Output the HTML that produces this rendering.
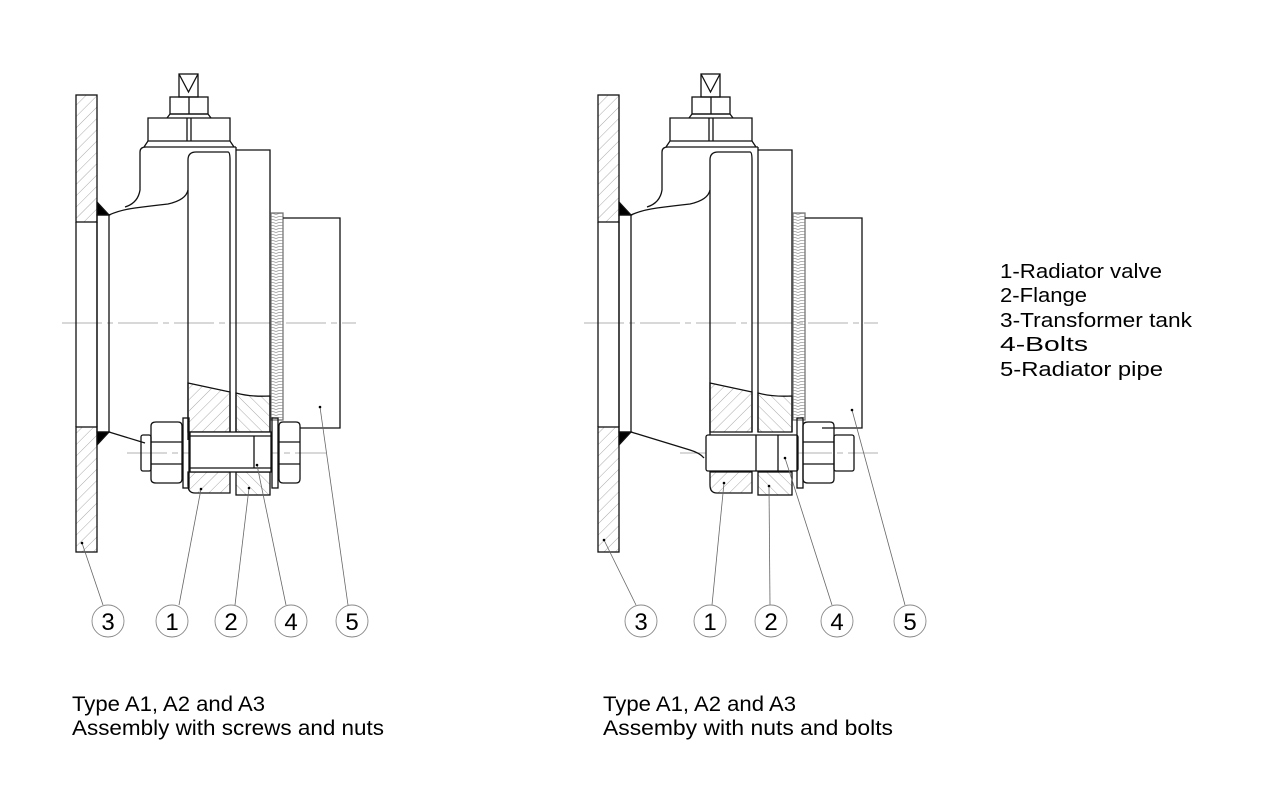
<!DOCTYPE html>
<html><head><meta charset="utf-8"><style>
html,body{margin:0;padding:0;background:#fff;}
svg{display:block;font-family:"Liberation Sans",sans-serif;}
</style></head><body>
<svg width="1280" height="800" viewBox="0 0 1280 800" xmlns="http://www.w3.org/2000/svg">
<defs>
<pattern id="h1" patternUnits="userSpaceOnUse" width="8" height="8" patternTransform="rotate(45)">
<line x1="0" y1="0" x2="0" y2="8" stroke="#aaa" stroke-width="1"/></pattern>
<pattern id="h2" patternUnits="userSpaceOnUse" width="8" height="8" patternTransform="rotate(-45)">
<line x1="0" y1="0" x2="0" y2="8" stroke="#aaa" stroke-width="1"/></pattern>
<pattern id="kn" patternUnits="userSpaceOnUse" width="12" height="3">
<path d="M0 1.5 Q6 -1 12 1.5" fill="none" stroke="#999" stroke-width="0.8"/></pattern>
<g id="body" fill="none" stroke="#111" stroke-width="1.3">
  <rect x="76" y="95" width="21" height="127" fill="url(#h1)"/>
  <rect x="76" y="427" width="21" height="125" fill="url(#h1)"/>
  <line x1="76" y1="222" x2="76" y2="427"/>
  <line x1="97" y1="222" x2="97" y2="427"/>
  <rect x="97" y="215" width="12" height="217"/>
  <path d="M97 202 L97 215 L109 215 Z" fill="#000"/>
  <path d="M97 432 L97 445 L109 432 Z" fill="#000"/>
  <path d="M109 215 Q120 210 135 208 Q150 206 168 204 Q186 200 188 190"/>
  <path d="M140 152 L140 190 Q138 203 125 207"/>
  <path d="M140 152 Q140 147 146 147 L236 147"/>
  <path d="M188 440 L188 160 Q188 152 196 152 L228 152 Q230 152 230 160 L230 432"/>
  <line x1="236" y1="147" x2="236" y2="432"/>
  <polyline points="236,150 270,150 270,432"/>
  <path d="M144 147 L148 141 L230 141 L234 147"/>
  <path d="M148 141 L148 118 L230 118 L230 141"/>
  <line x1="187" y1="118" x2="187" y2="141"/><line x1="191" y1="118" x2="191" y2="141"/>
  <path d="M167 118 L170 114 L208 114 L211 118"/>
  <rect x="170" y="97" width="38" height="17"/>
  <line x1="189" y1="97" x2="189" y2="114"/>
  <rect x="179" y="74" width="19" height="23"/>
  <path d="M179 74 L188.5 92 L198 74"/>
  <rect x="271" y="213" width="12" height="207" fill="url(#kn)" stroke="#777"/>
  <path d="M283 218 L340 218 L340 428 L300 428"/>
  <path d="M188 383 L230 392 L230 432 L188 432 Z" fill="url(#h1)"/>
  <path d="M236 393 Q250 397 270 396 L270 432 L236 432 Z" fill="url(#h2)"/>
</g>
</defs>

<g stroke="#999" stroke-width="0.8" stroke-dasharray="40 5 6 5">
<line x1="62" y1="323" x2="356" y2="323"/>
<line x1="584" y1="323" x2="878" y2="323"/>
<line x1="127" y1="453" x2="326" y2="453"/>
<line x1="680" y1="453" x2="878" y2="453"/>
</g>

<use href="#body"/>
<g fill="none" stroke="#111" stroke-width="1.3">
  <path d="M109 432 L145 443"/>
  <path d="M188 472 L230 472 L230 493 L195 493 Q188 493 188 485 Z" fill="url(#h1)"/>
  <rect x="236" y="472" width="34" height="23" fill="url(#h2)"/>
  <rect x="141" y="435" width="10" height="36" rx="2"/>
  <path d="M151 426 Q151 422 156 422 L178 422 Q182 422 182 426 L182 479 Q182 483 178 483 L156 483 Q151 483 151 479 Z"/>
  <line x1="151" y1="442" x2="182" y2="442"/><line x1="151" y1="464" x2="182" y2="464"/>
  <rect x="183" y="418" width="6" height="70"/>
  <rect x="190" y="432" width="81" height="40" fill="#fff"/>
  <line x1="190" y1="436" x2="271" y2="436"/><line x1="190" y1="468" x2="271" y2="468"/>
  <line x1="254" y1="436" x2="254" y2="468"/>
  <rect x="272" y="418" width="6" height="70"/>
  <path d="M279 426 Q279 422 283 422 L296 422 Q300 422 300 426 L300 479 Q300 483 296 483 L283 483 Q279 483 279 479 Z"/>
  <line x1="279" y1="442" x2="300" y2="442"/><line x1="279" y1="464" x2="300" y2="464"/>
</g>

<g transform="translate(522,0)">
<use href="#body"/>
</g>
<g fill="none" stroke="#111" stroke-width="1.3">
  <path d="M631 432 L690 450 Q700 453 704 458"/>
  <path d="M710 472 L752 472 L752 493 L717 493 Q710 493 710 485 Z" fill="url(#h1)"/>
  <rect x="758" y="472" width="34" height="23" fill="url(#h2)"/>
  <rect x="706" y="435" width="92" height="36" rx="2" fill="#fff"/>
  <line x1="756" y1="435" x2="756" y2="471"/><line x1="778" y1="435" x2="778" y2="471"/>
  <rect x="797" y="418" width="6" height="70"/>
  <path d="M803 426 Q803 422 808 422 L830 422 Q834 422 834 426 L834 479 Q834 483 830 483 L808 483 Q803 483 803 479 Z"/>
  <line x1="803" y1="442" x2="834" y2="442"/><line x1="803" y1="464" x2="834" y2="464"/>
  <rect x="834" y="435" width="20" height="36" rx="2"/>
</g>

<g stroke="#666" stroke-width="0.8">
<line x1="82" y1="543" x2="103" y2="605"/>
<line x1="201" y1="489" x2="179" y2="605"/>
<line x1="249" y1="488" x2="235" y2="605"/>
<line x1="257" y1="465" x2="286" y2="605"/>
<line x1="320" y1="407" x2="348" y2="605"/>
<line x1="604" y1="540" x2="636" y2="605"/>
<line x1="724" y1="483" x2="712" y2="605"/>
<line x1="769" y1="486" x2="770" y2="605"/>
<line x1="785" y1="458" x2="832" y2="605"/>
<line x1="852" y1="410" x2="905" y2="605"/>
</g>
<g fill="#000">
<circle cx="82" cy="543" r="1.3"/><circle cx="201" cy="489" r="1.3"/><circle cx="249" cy="488" r="1.3"/><circle cx="257" cy="465" r="1.3"/><circle cx="320" cy="407" r="1.3"/>
<circle cx="604" cy="540" r="1.3"/><circle cx="724" cy="483" r="1.3"/><circle cx="769" cy="486" r="1.3"/><circle cx="785" cy="458" r="1.3"/><circle cx="852" cy="410" r="1.3"/>
</g>
<g fill="#fff" stroke="#888" stroke-width="0.9">
<circle cx="108" cy="621" r="16"/><circle cx="172" cy="621" r="16"/><circle cx="231" cy="621" r="16"/><circle cx="291" cy="621" r="16"/><circle cx="352" cy="621" r="16"/>
<circle cx="641" cy="621" r="16"/><circle cx="710" cy="621" r="16"/><circle cx="771" cy="621" r="16"/><circle cx="837" cy="621" r="16"/><circle cx="910" cy="621" r="16"/>
</g>
<g font-size="24" text-anchor="middle" fill="#000">
<text x="108" y="630">3</text><text x="172" y="630">1</text><text x="231" y="630">2</text><text x="291" y="630">4</text><text x="352" y="630">5</text>
<text x="641" y="630">3</text><text x="710" y="630">1</text><text x="771" y="630">2</text><text x="837" y="630">4</text><text x="910" y="630">5</text>
</g>
<g font-size="21" fill="#000">
<text x="72" y="711" textLength="193" lengthAdjust="spacingAndGlyphs">Type A1, A2 and A3</text>
<text x="72" y="735" textLength="312" lengthAdjust="spacingAndGlyphs">Assembly with screws and nuts</text>
<text x="603" y="711" textLength="193" lengthAdjust="spacingAndGlyphs">Type A1, A2 and A3</text>
<text x="603" y="735" textLength="290" lengthAdjust="spacingAndGlyphs">Assemby with nuts and bolts</text>
</g>
<g font-size="20" fill="#000">
<text x="1000" y="278" textLength="162" lengthAdjust="spacingAndGlyphs">1-Radiator valve</text>
<text x="1000" y="302" textLength="87" lengthAdjust="spacingAndGlyphs">2-Flange</text>
<text x="1000" y="327" textLength="192" lengthAdjust="spacingAndGlyphs">3-Transformer tank</text>
<text x="1000" y="351" textLength="88" lengthAdjust="spacingAndGlyphs">4-Bolts</text>
<text x="1000" y="376" textLength="163" lengthAdjust="spacingAndGlyphs">5-Radiator pipe</text>
</g>
</svg>
</body></html>
